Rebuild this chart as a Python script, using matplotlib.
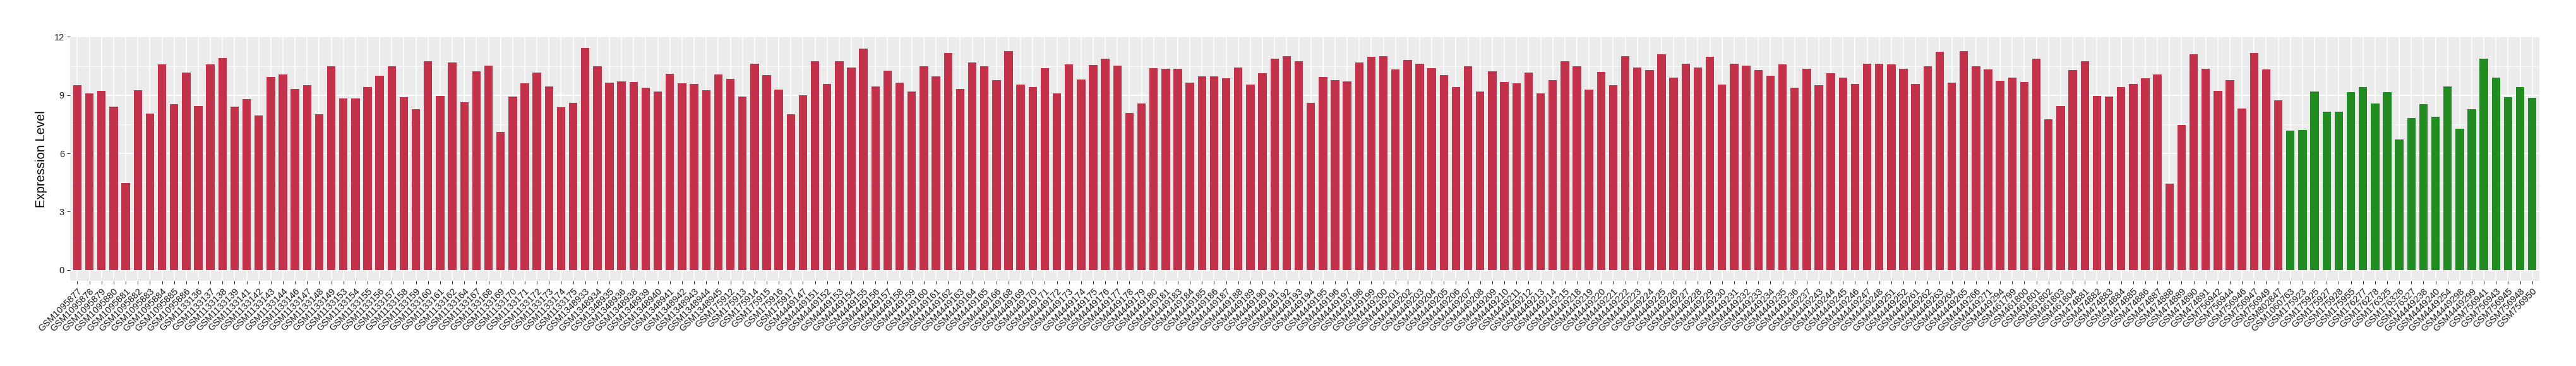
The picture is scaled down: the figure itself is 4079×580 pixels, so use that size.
import matplotlib
matplotlib.use("Agg")
import matplotlib.pyplot as plt
import numpy as np

plt.rcParams['font.family'] = ['Liberation Sans', 'DejaVu Sans']

# sample names, in plot order
tumor_samples = [
    "GSM1095877", "GSM1095878", "GSM1095879", "GSM1095880", "GSM1095881",
    "GSM1095882", "GSM1095883", "GSM1095884", "GSM1095885", "GSM1095886",
    "GSM1133136", "GSM1133137", "GSM1133138", "GSM1133139", "GSM1133141",
    "GSM1133142", "GSM1133143", "GSM1133144", "GSM1133146", "GSM1133147",
    "GSM1133148", "GSM1133149", "GSM1133153", "GSM1133154", "GSM1133155",
    "GSM1133156", "GSM1133157", "GSM1133158", "GSM1133159", "GSM1133160",
    "GSM1133161", "GSM1133162", "GSM1133164", "GSM1133167", "GSM1133168",
    "GSM1133169", "GSM1133170", "GSM1133171", "GSM1133172", "GSM1133173",
    "GSM1133174", "GSM1133175", "GSM1348933", "GSM1348934", "GSM1348935",
    "GSM1348936", "GSM1348938", "GSM1348939", "GSM1348940", "GSM1348941",
    "GSM1348942", "GSM1348943", "GSM1348944", "GSM1348945", "GSM175912",
    "GSM175913", "GSM175914", "GSM175915", "GSM175916", "GSM175917",
    "GSM4449147", "GSM4449151", "GSM4449152", "GSM4449153", "GSM4449154",
    "GSM4449155", "GSM4449156", "GSM4449157", "GSM4449158", "GSM4449159",
    "GSM4449160", "GSM4449161", "GSM4449162", "GSM4449163", "GSM4449164",
    "GSM4449165", "GSM4449166", "GSM4449168", "GSM4449169", "GSM4449170",
    "GSM4449171", "GSM4449172", "GSM4449173", "GSM4449174", "GSM4449175",
    "GSM4449176", "GSM4449177", "GSM4449178", "GSM4449179", "GSM4449180",
    "GSM4449181", "GSM4449183", "GSM4449184", "GSM4449185", "GSM4449186",
    "GSM4449187", "GSM4449188", "GSM4449189", "GSM4449190", "GSM4449191",
    "GSM4449192", "GSM4449193", "GSM4449194", "GSM4449195", "GSM4449196",
    "GSM4449197", "GSM4449198", "GSM4449199", "GSM4449200", "GSM4449201",
    "GSM4449202", "GSM4449203", "GSM4449204", "GSM4449205", "GSM4449206",
    "GSM4449207", "GSM4449208", "GSM4449209", "GSM4449210", "GSM4449211",
    "GSM4449212", "GSM4449213", "GSM4449214", "GSM4449215", "GSM4449218",
    "GSM4449219", "GSM4449220", "GSM4449221", "GSM4449222", "GSM4449223",
    "GSM4449224", "GSM4449225", "GSM4449226", "GSM4449227", "GSM4449228",
    "GSM4449229", "GSM4449230", "GSM4449231", "GSM4449232", "GSM4449233",
    "GSM4449234", "GSM4449235", "GSM4449236", "GSM4449237", "GSM4449243",
    "GSM4449244", "GSM4449245", "GSM4449246", "GSM4449247", "GSM4449248",
    "GSM4449251", "GSM4449252", "GSM4449261", "GSM4449262", "GSM4449263",
    "GSM4449264", "GSM4449265", "GSM4449266", "GSM4449271", "GSM4449294",
    "GSM461799", "GSM461800", "GSM461801", "GSM461802", "GSM461803",
    "GSM461804", "GSM474881", "GSM474882", "GSM474883", "GSM474884",
    "GSM474885", "GSM474886", "GSM474887", "GSM474888", "GSM474889",
    "GSM474890", "GSM474891", "GSM756942", "GSM756944", "GSM756946",
    "GSM756947", "GSM756949", "GSM802847",
]
tumor_values = [
    9.51, 9.09, 9.22, 8.41, 4.47, 9.25, 8.05, 10.57, 8.54, 10.15,
    8.44, 10.57, 10.92, 8.41, 8.80, 7.96, 9.92, 10.05, 9.31, 9.51,
    8.02, 10.47, 8.83, 8.83, 9.41, 9.99, 10.47, 8.89, 8.28, 10.73,
    8.96, 10.67, 8.63, 10.22, 10.51, 7.12, 8.92, 9.60, 10.15, 9.44,
    8.38, 8.60, 11.44, 10.47, 9.63, 9.70, 9.67, 9.38, 9.18, 10.09,
    9.60, 9.57, 9.25, 10.05, 9.83, 8.92, 10.60, 10.02, 9.28, 8.02,
    8.99, 10.76, 9.57, 10.76, 10.41, 11.41, 9.44, 10.25, 9.63, 9.18,
    10.47, 9.96, 11.18, 9.31, 10.67, 10.47, 9.76, 11.25, 9.54, 9.41,
    10.38, 9.09, 10.57, 9.80, 10.54, 10.86, 10.51, 8.09, 8.57, 10.38,
    10.34, 10.34, 9.63, 9.96, 9.96, 9.86, 10.41, 9.54, 10.12, 10.86,
    11.02, 10.76, 8.60, 9.92, 9.76, 9.70, 10.67, 10.96, 10.99, 10.31,
    10.80, 10.63, 10.38, 10.02, 9.41, 10.47, 9.18, 10.22, 9.67, 9.60,
    10.15, 9.09, 9.76, 10.76, 10.47, 9.28, 10.18, 9.51, 11.02, 10.41,
    10.28, 11.09, 9.89, 10.60, 10.41, 10.96, 9.54, 10.60, 10.51, 10.28,
    9.99, 10.57, 9.38, 10.34, 9.51, 10.12, 9.89, 9.57, 10.60, 10.60,
    10.57, 10.34, 9.57, 10.47, 11.22, 9.63, 11.25, 10.47, 10.31, 9.73,
    9.89, 9.67, 10.86, 7.76, 8.44, 10.28, 10.73, 8.96, 8.92, 9.41,
    9.57, 9.86, 10.05, 4.44, 7.47, 11.09, 10.34, 9.22, 9.76, 8.31,
    11.18, 10.31, 8.73,
]

normal_samples = [
    "GSM1060763", "GSM175923", "GSM175925", "GSM175927", "GSM175928",
    "GSM175955", "GSM176277", "GSM176278", "GSM176325", "GSM176326",
    "GSM176327", "GSM4449238", "GSM4449240", "GSM4449254", "GSM4449298",
    "GSM4449299", "GSM756941", "GSM756943", "GSM756945", "GSM756948",
    "GSM756950",
]
normal_values = [
    7.18, 7.22, 9.18, 8.15, 8.15, 9.15, 9.41, 8.57, 9.15, 6.73,
    7.83, 8.54, 7.89, 9.44, 7.28, 8.28, 10.89, 9.89, 8.89, 9.41,
    8.86,
]

tumor_color = "#C3314A"
normal_color = "#228B22"

samples = tumor_samples + normal_samples
values = tumor_values + normal_values
colors = [tumor_color] * len(tumor_values) + [normal_color] * len(normal_values)
n = len(samples)
x = np.arange(n)

fig = plt.figure(figsize=(40.8, 5.8), dpi=100, facecolor="white")
ax = fig.add_axes([0.0272, 0.232, 0.9584, 0.668], facecolor="#EBEBEB")

ax.bar(x, values, width=0.7, color=colors, zorder=3)

ymax = max(values)
ax.set_ylim(-0.05 * ymax, 1.05 * ymax)
ax.set_xlim(-0.6, n - 0.4)

ax.set_yticks([0, 3, 6, 9, 12])
ax.set_yticks([1.5, 4.5, 7.5, 10.5], minor=True)
ax.set_xticks(x)
ax.set_xticklabels(samples, rotation=45, ha="right", rotation_mode="anchor",
                   fontsize=10.5, color="#1a1a1a")
ax.tick_params(axis="y", labelsize=10.5, labelcolor="#1a1a1a")
ax.tick_params(axis="both", which="major", length=3.5, width=0.8,
               color="#333333", pad=3)
ax.tick_params(axis="y", which="minor", length=0)

ax.grid(True, which="major", color="white", linewidth=1.2, zorder=0)
ax.grid(True, which="minor", axis="y", color="white", linewidth=0.6, zorder=0)
ax.set_axisbelow(True)
for s in ax.spines.values():
    s.set_visible(False)

ax.set_ylabel("Expression Level", fontsize=14.5, labelpad=8)

fig.savefig("out.png", dpi=100, facecolor="white")
